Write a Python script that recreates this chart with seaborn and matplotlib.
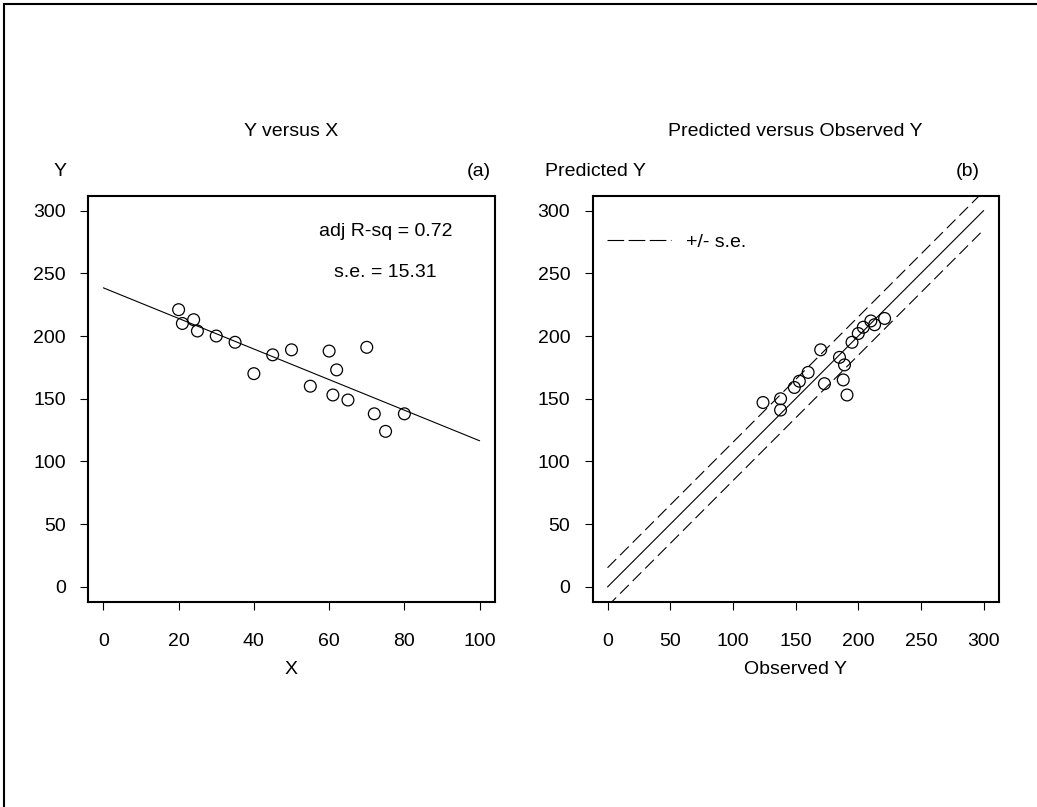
"""
Two-panel regression figure:
(a) Y versus X with the fitted line
(b) Predicted versus observed Y with the 1:1 line and +/- s.e. band
Saves out.png
"""
import matplotlib.pyplot as plt
import seaborn as sns
from matplotlib.lines import Line2D
from matplotlib.patches import Rectangle

# values
x_vals = [20, 21, 24, 25, 30, 35, 40, 45, 50, 55, 60, 61, 62, 65, 70, 72, 75, 80]
y_obs = [221, 210, 213, 204, 200, 195, 170, 185, 189, 160, 188, 153, 173, 149, 191, 138, 124, 138]
y_pred = [214, 212, 209, 207, 202, 195, 189, 183, 177, 171, 165, 164, 162, 159, 153, 150, 147, 141]

fit_x = [0, 100]
fit_y = [238.4, 116.5]

diag_x = [0, 300]
diag_y = [0, 300]
band_hi = [15.31, 315.31]
band_lo = [-15.31, 284.69]

adj_r2 = "0.72"
se_txt = "15.31"

FS = 14

sns.set_theme(style="ticks")
plt.rcParams["font.family"] = ["Liberation Sans", "DejaVu Sans"]
plt.rcParams["font.size"] = FS
plt.rcParams["text.color"] = "black"

W, H = 1037, 807
fig = plt.figure(figsize=(W / 100, H / 100), dpi=100)


def fx(px):
    return px / W


def fy(py):
    return 1 - py / H


ax1 = fig.add_axes([fx(88.3), fy(602), fx(494.7) - fx(88.3), fy(195.5) - fy(602)])
ax2 = fig.add_axes([fx(592.5), fy(602), fx(998.7) - fx(592.5), fy(195.5) - fy(602)])

# panel (a)
sns.scatterplot(x=x_vals, y=y_obs, ax=ax1, marker="o", s=72,
                facecolor="none", edgecolor="black", linewidth=0.9)
ax1.plot(fit_x, fit_y, color="black", lw=0.8)
ax1.set_xlim(-4, 104)
ax1.set_ylim(-12, 312)
ax1.set_xticks(range(0, 101, 20))
ax1.set_yticks(range(0, 301, 50))
ax1.text(75, 283, f"adj R-sq = {adj_r2}", ha="center", va="center", fontsize=FS)
ax1.text(75, 251, f"s.e. = {se_txt}", ha="center", va="center", fontsize=FS)

# panel (b)
sns.scatterplot(x=y_obs, y=y_pred, ax=ax2, marker="o", s=72,
                facecolor="none", edgecolor="black", linewidth=0.9)
ax2.plot(diag_x, diag_y, color="black", lw=0.8)
ax2.plot(diag_x, band_hi, color="black", lw=0.8, linestyle=(0, (11, 5)))
ax2.plot(diag_x, band_lo, color="black", lw=0.8, linestyle=(0, (11, 5)))
ax2.set_xlim(-12, 312)
ax2.set_ylim(-12, 312)
ax2.set_xticks(range(0, 301, 50))
ax2.set_yticks(range(0, 301, 50))

handle = Line2D([], [], color="black", lw=0.8, linestyle=(0, (15, 4)))
ax2.legend([handle], ["+/- s.e."], loc="center left",
           bbox_to_anchor=(0.0364, 0.886), frameon=False, fontsize=FS,
           handlelength=3.3, handletextpad=0.75, borderpad=0, borderaxespad=0)

for ax in (ax1, ax2):
    for sp in ax.spines.values():
        sp.set_visible(True)
        sp.set_linewidth(1.5)
        sp.set_color("black")
    ax.tick_params(direction="out", length=6, width=0.8, color="black",
                   labelsize=FS, labelcolor="black")
    ax.tick_params(axis="y", pad=10)
    ax.tick_params(axis="x", pad=16)
    ax.set_xlabel("")
    ax.set_ylabel("")

# titles and labels placed like the reference
fig.text(fx(291), fy(131), "Y versus X", ha="center", va="center", fontsize=FS)
fig.text(fx(795.5), fy(131), "Predicted versus Observed Y", ha="center", va="center", fontsize=FS)
fig.text(fx(60.5), fy(172), "Y", ha="center", va="center", fontsize=FS)
fig.text(fx(479), fy(172), "(a)", ha="center", va="center", fontsize=FS)
fig.text(fx(595), fy(172), "Predicted Y", ha="center", va="center", fontsize=FS)
fig.text(fx(968), fy(172), "(b)", ha="center", va="center", fontsize=FS)
fig.text(fx(291), fy(670), "X", ha="center", va="center", fontsize=FS)
fig.text(fx(795.5), fy(670), "Observed Y", ha="center", va="center", fontsize=FS)

# outer frame (right and bottom edges fall outside the image)
fig.patches.append(Rectangle((fx(3.5), -0.1), 1.2, fy(3.5) + 0.1,
                             transform=fig.transFigure, fill=False,
                             edgecolor="black", linewidth=1.5))

fig.savefig("out.png", dpi=100)
